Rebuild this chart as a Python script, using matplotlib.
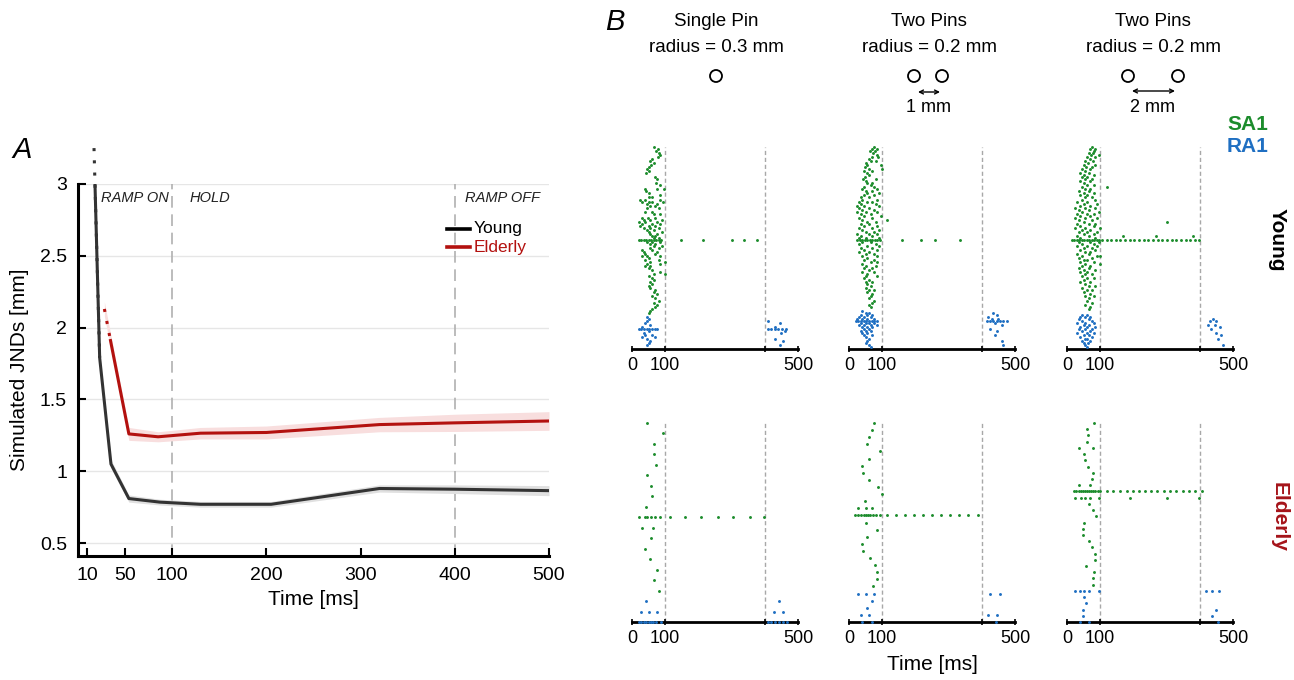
import matplotlib.pyplot as plt
from matplotlib.patches import Circle

plt.rcParams['font.family'] = ['Liberation Sans', 'DejaVu Sans']

W, H = 1294, 680

# ---- panel A: simulated JNDs over time
young_t = [17, 23, 35, 54, 87, 130, 205, 320, 400, 500]
young_jnd = [3.25, 1.79, 1.05, 0.81, 0.785, 0.77, 0.77, 0.88, 0.875, 0.865]
young_err = [0.03, 0.03, 0.03, 0.025, 0.02, 0.02, 0.02, 0.025, 0.03, 0.035]
elderly_t = [28, 34.5, 54, 85, 130, 200, 320, 400, 500]
elderly_jnd = [2.13, 1.91, 1.26, 1.24, 1.265, 1.27, 1.325, 1.337, 1.35]
elderly_err = [0.05, 0.05, 0.045, 0.035, 0.04, 0.045, 0.05, 0.06, 0.065]
a_xticks = [10, 50, 100, 200, 300, 400, 500]
a_yticks = [0.5, 1, 1.5, 2, 2.5, 3]
phases = ['RAMP ON', 'HOLD', 'RAMP OFF']

# ---- panel B: spike rasters, (neuron row, spike times in ms ...)
y1_sa1 = [(100, 65), (99, 77), (98, 73), (97, 80), (96, 83), (95, 77), (94, 60), (93, 55), (92, 65),
          (91, 58), (90, 50), (89, 45), (88, 52), (87, 43), (85, 68), (84, 75), (82, 73), (81, 83),
          (79, 38, 75, 95), (78, 43), (77, 50), (76, 85), (75, 50, 60), (74, 25, 40, 85),
          (73, 30, 50, 60, 93), (72, 45, 75), (71, 55, 70), (70, 45, 80), (68, 40, 60), (67, 65, 85),
          (65, 30, 48, 70), (64, 35, 55, 90), (63, 20, 40, 75), (62, 30, 60, 85), (61, 25, 50, 70),
          (60, 35, 55, 80), (59, 45, 65), (58, 50, 90), (57, 55, 75), (56, 60, 70), (55, 65, 80),
          (54, 20, 28, 35, 42, 50, 57, 65, 72, 80, 88, 148, 215, 302, 338, 375),
          (53, 45, 60, 85), (52, 55, 70), (51, 65, 90), (50, 55, 80), (49, 30, 60), (48, 35, 75),
          (47, 40, 70), (46, 30, 45, 85), (45, 50), (44, 40, 80), (43, 55, 100), (42, 45, 85),
          (41, 40, 55), (40, 50), (39, 60), (38, 85), (37, 65, 100), (36, 50), (35, 60), (34, 65),
          (33, 55), (32, 60), (31, 50), (30, 55), (29, 70), (28, 65), (27, 75), (26, 60), (25, 70),
          (24, 80), (23, 65), (22, 75), (21, 70), (20, 60), (19, 55), (18, 50)]
y1_ra1 = [(16, 45), (15, 50), (14, 45, 410), (13, 40, 445), (12, 55), (11, 30, 430),
          (10, 20, 28, 36, 44, 52, 60, 68, 76, 410, 420, 430, 440, 452, 465),
          (9, 50, 460), (8, 35, 450), (7, 40, 60), (6, 30, 70), (5, 45, 430), (4, 55, 455),
          (3, 50), (2, 45, 445)]
y2_sa1 = [(100, 75), (99, 68, 83), (98, 63, 78), (97, 73), (96, 85), (95, 70, 88), (94, 60),
          (93, 65, 80), (92, 50), (91, 55, 95), (90, 48), (89, 60, 98), (88, 45, 70), (87, 53),
          (86, 60), (85, 48), (84, 43, 80), (83, 50), (82, 55, 70), (81, 65), (80, 45, 75),
          (79, 38, 85), (78, 50, 70), (77, 55, 90), (76, 45, 75), (75, 35, 60), (74, 40, 85),
          (73, 30, 55, 70), (72, 35, 80), (71, 25, 45, 90), (70, 30, 60), (69, 40, 75),
          (68, 25, 50, 85), (67, 35, 65), (66, 45, 95), (65, 30, 70), (64, 40, 115), (63, 55, 80),
          (62, 35, 60), (61, 45, 85), (60, 30, 70), (59, 40, 90), (58, 50, 75), (57, 25, 60, 85),
          (56, 35, 70), (55, 30, 50, 90),
          (54, 25, 32, 40, 47, 55, 62, 70, 78, 85, 93, 161, 218, 259, 335),
          (53, 40, 65), (52, 30, 80), (51, 55, 90), (50, 35, 70), (49, 45, 85), (48, 30, 60),
          (47, 50, 75), (46, 40, 85), (45, 55), (44, 45, 75), (43, 65, 85), (42, 40), (41, 50, 80),
          (40, 45, 70), (39, 60), (38, 40, 75), (37, 55), (36, 50, 85), (35, 45), (34, 60),
          (33, 50, 70), (32, 55), (31, 65), (30, 50), (29, 60, 75), (28, 55), (27, 70), (26, 65),
          (25, 60), (24, 75), (23, 70), (22, 60), (21, 65)]
y2_ra1 = [(19, 40), (18, 50, 60, 435), (17, 35, 55, 70, 445), (16, 30, 45, 65, 420),
          (15, 25, 40, 55, 75, 430, 450),
          (14, 20, 28, 36, 44, 52, 60, 68, 76, 85, 415, 425, 435, 445, 455, 465, 475),
          (13, 35, 50, 60, 75, 440), (12, 30, 45, 65, 85, 460), (11, 40, 55, 70), (10, 45, 60, 425),
          (9, 35, 50, 65, 445), (8, 40, 55), (7, 45, 70, 440), (6, 50), (5, 60), (4, 55, 460),
          (3, 50), (2, 60, 465), (1, 65)]
y3_sa1 = [(100, 75), (99, 70, 85), (98, 80), (97, 65, 78), (96, 72, 95), (95, 60, 83), (94, 68),
          (93, 55, 78), (92, 63), (91, 50, 85), (90, 58, 75), (89, 45, 70), (88, 55), (87, 40, 65),
          (86, 50, 80), (85, 45, 60), (84, 55, 75), (83, 40, 68), (82, 50), (81, 60, 80),
          (80, 45, 120), (79, 55, 70), (78, 35, 65), (77, 50, 80), (76, 40, 60), (75, 55, 75),
          (74, 45, 85), (73, 30, 60), (72, 50, 90), (71, 40, 70), (70, 25, 55, 85), (69, 35, 65),
          (68, 45, 95), (67, 30, 60, 80), (66, 40, 70), (65, 25, 55, 90), (64, 35, 75), (63, 50, 300),
          (62, 30, 65, 85), (61, 40, 80), (60, 25, 55, 100), (59, 45, 70), (58, 35, 60, 90),
          (57, 50, 80), (56, 30, 65, 170, 268, 380), (55, 40, 85),
          (54, 15, 22, 30, 37, 45, 52, 60, 67, 75, 82, 90, 97, 105, 119,
           133, 147, 161, 175, 189, 203, 217, 231, 245, 259, 273, 287, 301, 315, 329, 343, 357,
           371, 385, 398),
          (53, 35, 70, 95), (52, 45, 80), (51, 30, 60, 90), (50, 50, 75), (49, 40, 85), (48, 55, 70),
          (47, 30, 65), (46, 45, 90, 100), (45, 35, 75), (44, 50, 60), (43, 40, 80), (42, 55, 100),
          (41, 45, 70), (40, 35, 65), (39, 50, 85), (38, 40, 60), (37, 55, 75), (36, 45),
          (35, 60, 80), (34, 50), (33, 40, 70), (32, 55), (31, 65, 85), (30, 45), (29, 60, 75),
          (28, 50), (27, 70), (26, 55, 80), (25, 65), (24, 60), (23, 75), (22, 55), (21, 70),
          (20, 65)]
y3_ra1 = [(17, 45, 60), (16, 40, 55, 70), (15, 35, 65, 440), (14, 45, 75, 430, 450),
          (13, 30, 55, 80), (12, 50, 65, 425, 445), (11, 40, 60, 85, 460), (10, 35, 55, 75, 435),
          (9, 45, 70), (8, 30, 60, 80, 450), (7, 50, 65, 465), (6, 40, 75), (5, 55, 60, 455),
          (4, 45, 70), (3, 50, 62), (2, 55, 470), (1, 60)]
e1_sa1 = [(19, 45), (18, 93), (17, 66), (16, 66), (15, 72), (14, 46), (13, 58), (12, 60), (11, 41),
          (10, 22, 38, 46, 58, 70, 84, 114, 159, 209, 260, 304, 355, 397),
          (9, 29, 62), (8, 57), (7, 38), (6, 54), (5, 76), (4, 66), (3, 82)]
e1_ra1 = [(2, 43, 442), (1, 28, 51, 76, 428, 455),
          (0, 20, 28, 36, 43, 50, 58, 64, 72, 86, 410, 420, 430, 442, 455, 468)]
e2_sa1 = [(28, 75), (27, 70), (26, 61), (25, 54), (24, 94), (23, 61), (22, 39), (21, 42), (20, 61),
          (19, 87), (18, 99), (17, 47), (16, 28, 51, 70),
          (15, 18, 28, 37, 44, 51, 57, 64, 71, 80, 93, 115, 143, 169, 195, 223, 249, 277, 305,
           332, 359, 389),
          (14, 51), (13, 83), (12, 53), (11, 38), (10, 41), (9, 64), (8, 77), (7, 84), (6, 85),
          (5, 71)]
e2_ra1 = [(4, 27, 50, 75, 426, 455), (3, 70), (2, 54), (1, 35, 59, 420, 446), (0, 40, 70, 444)]
e3_sa1 = [(32, 80), (31, 60), (30, 63), (29, 59), (28, 36, 79), (27, 50), (26, 55), (25, 63),
          (24, 79), (23, 75), (22, 37, 70),
          (21, 20, 28, 36, 42, 48, 55, 61, 67, 73, 79, 85, 92, 100, 120, 140, 160, 180, 198, 216,
           236, 254, 272, 292, 310, 328, 348, 368, 386, 406),
          (20, 24, 42, 55, 70, 96, 190, 302, 398),
          (19, 65), (18, 77), (17, 88), (16, 50), (15, 48), (14, 48), (13, 67), (12, 75), (11, 83),
          (10, 83), (9, 58), (8, 80), (7, 78), (6, 77)]
e3_ra1 = [(5, 23, 38, 52, 67, 95, 419, 438, 458), (4, 52), (3, 57), (2, 49, 449), (1, 48, 438),
          (0, 38, 67, 455)]

young_rasters = [(y1_sa1, y1_ra1), (y2_sa1, y2_ra1), (y3_sa1, y3_ra1)]
elderly_rasters = [(e1_sa1, e1_ra1), (e2_sa1, e2_ra1), (e3_sa1, e3_ra1)]
young_rows = [100, 100, 100]
elderly_rows = [19, 28, 32]
stim_names = ['Single Pin', 'Two Pins', 'Two Pins']
stim_radius = ['radius = 0.3 mm', 'radius = 0.2 mm', 'radius = 0.2 mm']
pin_gap = ['', '1 mm', '2 mm']

GREEN = '#1c8c2c'
BLUE = '#1f6fc2'
RED = '#b3110f'


def px_rect(l, t, r, b):
    return [l / W, 1 - b / H, (r - l) / W, (b - t) / H]


fig = plt.figure(figsize=(W / 100, H / 100), dpi=100)

# ---------------- panel A
ax = fig.add_axes(px_rect(78, 184, 549, 556))
ax.set_xlim(0, 500)
ax.set_ylim(0.41, 3.0)
for yv in a_yticks:
    ax.axhline(yv, color='#e6e6e6', lw=1, zorder=0)
for xv in [100, 400]:
    ax.plot([xv, xv], [0.41, 3.0], color='#b0b0b0', lw=1.2, dashes=(7, 4), zorder=1)

ax.fill_between(young_t, [m - e for m, e in zip(young_jnd, young_err)],
                [m + e for m, e in zip(young_jnd, young_err)], color='#e0e0e0', lw=0, zorder=2)
ax.fill_between(elderly_t, [m - e for m, e in zip(elderly_jnd, elderly_err)],
                [m + e for m, e in zip(elderly_jnd, elderly_err)], color='#f8dede', lw=0, zorder=2)
ax.plot(young_t, young_jnd, color='#333333', lw=2.2, zorder=3)
ax.plot(young_t[:2], young_jnd[:2], color='#333333', lw=2.2, ls=(0, (1, 3)), clip_on=False, zorder=3)
ax.plot(elderly_t[:2], elderly_jnd[:2], color=RED, lw=2.2, ls=(0, (1, 3)), zorder=3)
ax.plot(elderly_t[1:], elderly_jnd[1:], color=RED, lw=2.2, zorder=3)

ax.text(96, 2.9, phases[0], ha='right', va='center', style='italic', fontsize=10.5, color='#222222')
ax.text(118, 2.9, phases[1], ha='left', va='center', style='italic', fontsize=10.5, color='#222222')
ax.text(490, 2.9, phases[2], ha='right', va='center', style='italic', fontsize=10.5, color='#222222')

# legend: short line plus coloured label
for yv, lab, col in [(2.69, 'Young', 'black'), (2.56, 'Elderly', RED)]:
    ax.plot([392, 416], [yv, yv], color=col, lw=2.6, zorder=3)
    ax.text(420, yv, lab, ha='left', va='center', fontsize=12.5, color=col)

ax.set_xticks(a_xticks)
ax.set_yticks(a_yticks)
ax.set_yticklabels(['0.5', '1', '1.5', '2', '2.5', '3'])
ax.tick_params(direction='in', length=6, width=1.5, labelsize=14, pad=8)
for s in ['top', 'right']:
    ax.spines[s].set_visible(False)
for s in ['left', 'bottom']:
    ax.spines[s].set_linewidth(2.2)
ax.set_xlabel('Time [ms]', fontsize=15, labelpad=4)
ax.set_ylabel('Simulated JNDs [mm]', fontsize=15, labelpad=8)

# ---------------- panel B
col_left = [632, 849, 1067]


def raster(ax, sa1, ra1, nrows):
    ax.set_xlim(0, 500)
    ax.set_ylim(0, nrows)
    for xv in [100, 400]:
        ax.axvline(xv, color='#a8a8a8', lw=1, dashes=(3, 2), zorder=0)
    for color, data in [(GREEN, sa1), (BLUE, ra1)]:
        for row, *ts in data:
            ax.plot(ts, [row] * len(ts), 'o', ms=2.1, mew=0, color=color, clip_on=False, zorder=3)
    for s in ['top', 'right', 'left']:
        ax.spines[s].set_visible(False)
    ax.spines['bottom'].set_linewidth(2)
    ax.set_yticks([])
    ax.set_xticks([0, 100, 400, 500])
    ax.set_xticklabels(['0', '100', '', '500'])
    ax.tick_params(axis='x', direction='inout', length=5, width=1.2, labelsize=13, pad=3)


for i in range(3):
    l = col_left[i]
    axy = fig.add_axes(px_rect(l, 147, l + 166, 349))
    raster(axy, *young_rasters[i], young_rows[i])
    axe = fig.add_axes(px_rect(l, 423, l + 166, 622))
    raster(axe, *elderly_rasters[i], elderly_rows[i])

# ---------------- annotations in pixel space
ov = fig.add_axes([0, 0, 1, 1])
ov.set_xlim(0, W)
ov.set_ylim(H, 0)
ov.axis('off')

centers = [716, 929, 1153]
for i in range(3):
    ov.text(centers[i], 22, stim_names[i], ha='center', va='center', fontsize=13.5)
    ov.text(centers[i], 47, stim_radius[i], ha='center', va='center', fontsize=13.5)
    if pin_gap[i]:
        ov.text(centers[i], 107, pin_gap[i], ha='center', va='center', fontsize=13)

pins = [(716,), (914, 942), (1128, 1178)]
for xs in pins:
    for xc in xs:
        ov.add_patch(Circle((xc, 76), 6, fill=False, lw=1.3, ec='black'))
ov.annotate('', xy=(918, 92), xytext=(940, 92),
            arrowprops=dict(arrowstyle='<->', lw=1, mutation_scale=7, shrinkA=0, shrinkB=0))
ov.annotate('', xy=(1132, 91), xytext=(1175, 91),
            arrowprops=dict(arrowstyle='<->', lw=1, mutation_scale=7, shrinkA=0, shrinkB=0))

ov.text(1268, 124, 'SA1', ha='right', va='center', fontsize=15, fontweight='bold', color=GREEN)
ov.text(1268, 146, 'RA1', ha='right', va='center', fontsize=15, fontweight='bold', color=BLUE)
ov.text(1277, 240, 'Young', ha='center', va='center', rotation=-90, fontsize=15, fontweight='bold')
ov.text(1279, 517, 'Elderly', ha='center', va='center', rotation=-90, fontsize=15,
        fontweight='bold', color='#a5141a')
ov.text(932, 665, 'Time [ms]', ha='center', va='center', fontsize=15)
ov.text(22, 150, 'A', ha='center', va='center', fontsize=21, style='italic')
ov.text(615, 22, 'B', ha='center', va='center', fontsize=21, style='italic')

fig.savefig('out.png', dpi=100)
